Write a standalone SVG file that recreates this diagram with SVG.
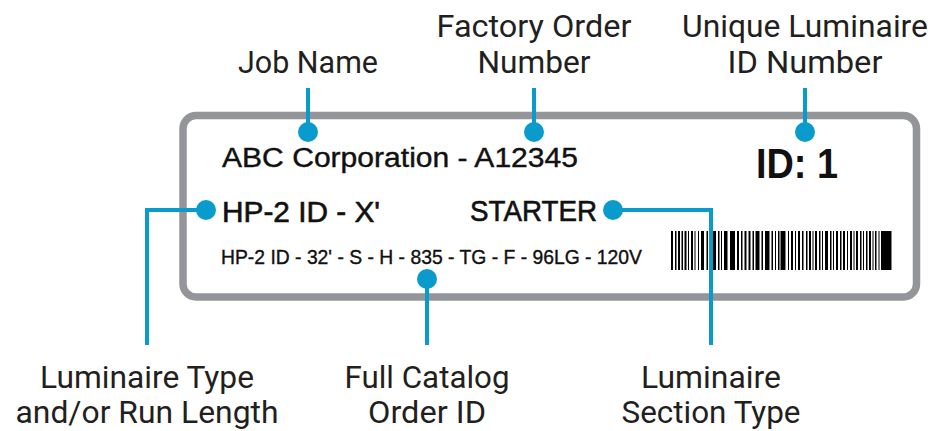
<svg xmlns="http://www.w3.org/2000/svg" width="935" height="431" viewBox="0 0 935 431">
<style>
.lbl{font-family:Roboto,"Liberation Sans",sans-serif;font-size:31px;fill:#231f20;text-anchor:middle}
.fld{font-family:"Liberation Sans",Arial,sans-serif;fill:#111;stroke:#111}
.con{stroke:#0a9bcd;stroke-width:4;fill:none}
.dot{fill:#0a9bcd}
.bar{fill:#000}
</style>
<rect width="935" height="431" fill="#fff"/>
<g id="label-card">
<rect x="183" y="115.5" width="733.5" height="181.5" rx="13" fill="#fff" stroke="#939598" stroke-width="7.5"/>
</g>
<g id="field-job">
<text class="fld" x="222" y="167" font-size="27" stroke-width="0.4" textLength="356" lengthAdjust="spacingAndGlyphs">ABC Corporation - A12345</text>
</g>
<g id="field-id">
<text class="fld" x="756" y="178" font-size="42" font-weight="bold" stroke-width="0" textLength="82" lengthAdjust="spacingAndGlyphs">ID: 1</text>
</g>
<g id="field-type">
<text class="fld" x="222" y="222" font-size="29" stroke-width="0.6" textLength="158" lengthAdjust="spacingAndGlyphs">HP-2 ID - X'</text>
</g>
<g id="field-section">
<text class="fld" x="470" y="221" font-size="29" stroke-width="0.6" textLength="127" lengthAdjust="spacingAndGlyphs">STARTER</text>
</g>
<g id="field-catalog">
<text class="fld" x="221" y="264" font-size="21" stroke-width="0.4" textLength="421" lengthAdjust="spacingAndGlyphs">HP-2 ID - 32' - S - H - 835 - TG - F - 96LG - 120V</text>
</g>
<g id="barcode">
<rect class="bar" x="671" y="231" width="2" height="39"/>
<rect class="bar" x="675" y="231" width="1.5" height="39"/>
<rect class="bar" x="678" y="231" width="2" height="39"/>
<rect class="bar" x="681.5" y="231" width="1.5" height="39"/>
<rect class="bar" x="684.5" y="231" width="2" height="39"/>
<rect class="bar" x="688" y="231" width="1" height="39"/>
<rect class="bar" x="691" y="231" width="2" height="39"/>
<rect class="bar" x="694.5" y="231" width="1" height="39"/>
<rect class="bar" x="698" y="231" width="1" height="39"/>
<rect class="bar" x="701" y="231" width="3" height="39"/>
<rect class="bar" x="706.5" y="231" width="1.5" height="39"/>
<rect class="bar" x="713" y="231" width="3" height="39"/>
<rect class="bar" x="718" y="231" width="1.5" height="39"/>
<rect class="bar" x="721" y="231" width="1" height="39"/>
<rect class="bar" x="724" y="231" width="3.5" height="39"/>
<rect class="bar" x="730" y="231" width="5" height="39"/>
<rect class="bar" x="737" y="231" width="2" height="39"/>
<rect class="bar" x="741" y="231" width="1.5" height="39"/>
<rect class="bar" x="744.5" y="231" width="2" height="39"/>
<rect class="bar" x="748.5" y="231" width="2" height="39"/>
<rect class="bar" x="752.5" y="231" width="1.5" height="39"/>
<rect class="bar" x="755.5" y="231" width="4" height="39"/>
<rect class="bar" x="761.5" y="231" width="1.5" height="39"/>
<rect class="bar" x="765" y="231" width="4.5" height="39"/>
<rect class="bar" x="771.5" y="231" width="1.5" height="39"/>
<rect class="bar" x="775" y="231" width="1" height="39"/>
<rect class="bar" x="778" y="231" width="1.5" height="39"/>
<rect class="bar" x="780.5" y="231" width="5" height="39"/>
<rect class="bar" x="788" y="231" width="1" height="39"/>
<rect class="bar" x="791" y="231" width="2" height="39"/>
<rect class="bar" x="795" y="231" width="1" height="39"/>
<rect class="bar" x="798" y="231" width="2" height="39"/>
<rect class="bar" x="802" y="231" width="1.5" height="39"/>
<rect class="bar" x="806" y="231" width="1.5" height="39"/>
<rect class="bar" x="809" y="231" width="2" height="39"/>
<rect class="bar" x="812.5" y="231" width="1" height="39"/>
<rect class="bar" x="815" y="231" width="2" height="39"/>
<rect class="bar" x="819" y="231" width="1.5" height="39"/>
<rect class="bar" x="822" y="231" width="1" height="39"/>
<rect class="bar" x="825" y="231" width="3" height="39"/>
<rect class="bar" x="830" y="231" width="1.5" height="39"/>
<rect class="bar" x="833" y="231" width="1" height="39"/>
<rect class="bar" x="836" y="231" width="2" height="39"/>
<rect class="bar" x="840" y="231" width="1.5" height="39"/>
<rect class="bar" x="843" y="231" width="2" height="39"/>
<rect class="bar" x="847" y="231" width="1" height="39"/>
<rect class="bar" x="850" y="231" width="2" height="39"/>
<rect class="bar" x="853.5" y="231" width="1" height="39"/>
<rect class="bar" x="856" y="231" width="2" height="39"/>
<rect class="bar" x="860" y="231" width="1.5" height="39"/>
<rect class="bar" x="863" y="231" width="1" height="39"/>
<rect class="bar" x="866" y="231" width="1.5" height="39"/>
<rect class="bar" x="869" y="231" width="2" height="39"/>
<rect class="bar" x="872.5" y="231" width="1" height="39"/>
<rect class="bar" x="875" y="231" width="1.5" height="39"/>
<rect class="bar" x="878.5" y="231" width="1" height="39"/>
<rect class="bar" x="881" y="231" width="10.5" height="39"/>
</g>
<g id="connectors">
<line class="con" x1="308" y1="88" x2="308" y2="132"/>
<circle class="dot" cx="308" cy="132" r="10"/>
<line class="con" x1="534" y1="88" x2="534" y2="132"/>
<circle class="dot" cx="534" cy="132" r="10"/>
<line class="con" x1="805" y1="88" x2="805" y2="132"/>
<circle class="dot" cx="805" cy="132" r="10"/>
<polyline class="con" points="147,345 147,210 206,210"/>
<circle class="dot" cx="206" cy="210" r="10"/>
<line class="con" x1="427" y1="279" x2="427" y2="345"/>
<circle class="dot" cx="427" cy="279" r="10"/>
<polyline class="con" points="613,210 711,210 711,345"/>
<circle class="dot" cx="613" cy="210" r="10"/>
</g>
<g id="label-job-name">
<text class="lbl" x="308" y="73" textLength="140" lengthAdjust="spacingAndGlyphs">Job Name</text>
</g>
<g id="label-factory-order">
<text class="lbl" x="534" y="37" textLength="195" lengthAdjust="spacingAndGlyphs">Factory Order</text>
<text class="lbl" x="534" y="73" textLength="113" lengthAdjust="spacingAndGlyphs">Number</text>
</g>
<g id="label-unique-id">
<text class="lbl" x="805" y="37" textLength="246" lengthAdjust="spacingAndGlyphs">Unique Luminaire</text>
<text class="lbl" x="805" y="73" textLength="155" lengthAdjust="spacingAndGlyphs">ID Number</text>
</g>
<g id="label-luminaire-type">
<text class="lbl" x="147" y="388" textLength="214" lengthAdjust="spacingAndGlyphs">Luminaire Type</text>
<text class="lbl" x="147" y="423" textLength="263" lengthAdjust="spacingAndGlyphs">and/or Run Length</text>
</g>
<g id="label-catalog">
<text class="lbl" x="427" y="388" textLength="165" lengthAdjust="spacingAndGlyphs">Full Catalog</text>
<text class="lbl" x="427" y="423" textLength="118" lengthAdjust="spacingAndGlyphs">Order ID</text>
</g>
<g id="label-section-type">
<text class="lbl" x="711" y="388" textLength="140" lengthAdjust="spacingAndGlyphs">Luminaire</text>
<text class="lbl" x="711" y="423" textLength="179" lengthAdjust="spacingAndGlyphs">Section Type</text>
</g>
</svg>
